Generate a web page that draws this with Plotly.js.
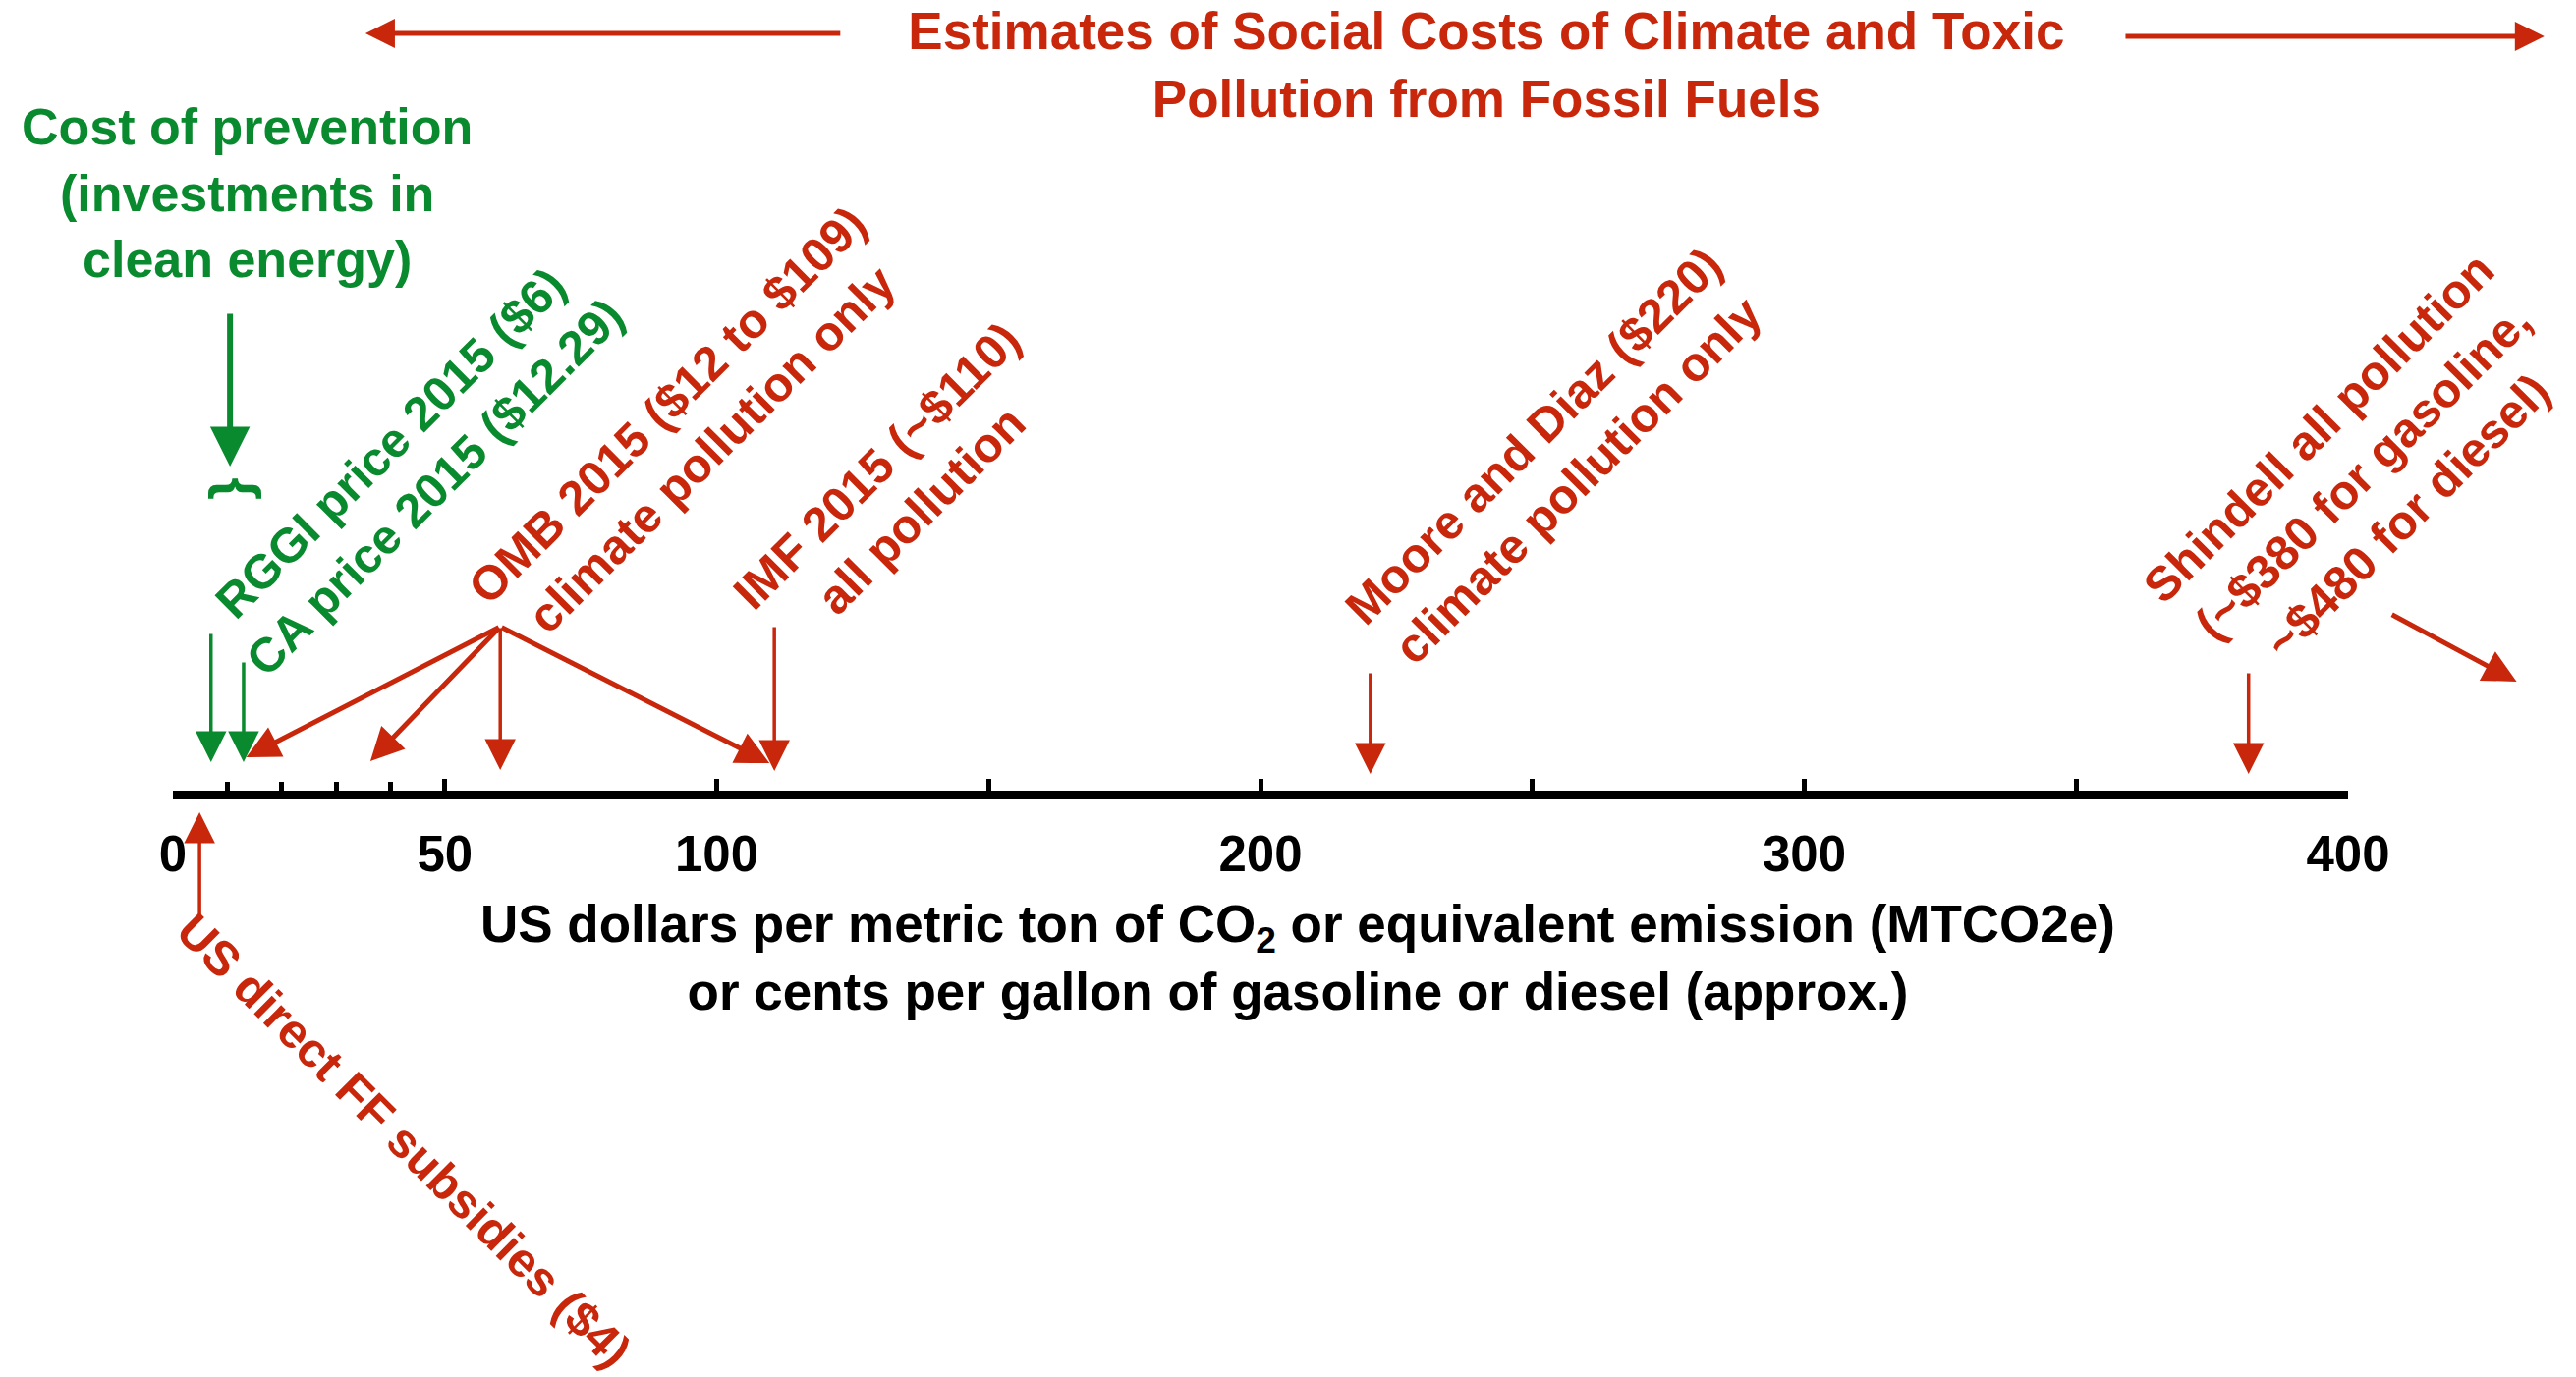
<!DOCTYPE html>
<html><head><meta charset="utf-8">
<script src="https://cdn.plot.ly/plotly-3.0.1.min.js"></script>
<style>html,body{margin:0;padding:0;background:#fff;overflow:hidden}</style>
</head><body><div id="chart" style="width:2622px;height:1402px"></div>
<script>
const RED = '#C8270B';
const GREEN = '#0A8A2E';
const FONT = '"Liberation Sans", Arial, Helvetica, sans-serif';

// ---- axis ----
const labelledTickValues = [0, 50, 100, 200, 300, 400];
const labelledTickText = ['0', '50', '100', '200', '300', '400'];
const unlabelledTickValues = [150, 250, 350];
const minorTickValues = [10, 20, 30, 40];
const xRange = [0, 400];

// ---- estimates (US$ per tCO2e, read where each arrow points) ----
const priceLabels = ['RGGI price 2015 ($6)', 'CA price 2015 ($12.29)'];
const priceValues = [7, 13];
const ombLabels = ['OMB 2015 ($12 to $109)', 'climate pollution only'];
const ombTargets = [13.5, 36.3, 60.2, 109.7];
const ombHub = 60.2;
const estimateLabels = [
  'IMF 2015 (~$110)<br>all pollution',
  'Moore and Diaz ($220)<br>climate pollution only',
  'Shindell all pollution<br>(~$380 for gasoline,<br>~$480 for diesel)'
];
const estimateValues = [110.6, 220.2, 381.7];
const dieselValue = 431;
const subsidyLabel = 'US direct FF subsidies ($4)';
const subsidyValue = 4.9;

const preventionLabel = 'Cost of prevention<br>(investments in<br>clean energy)';
const titleText = 'Estimates of Social Costs of Climate and Toxic<br>Pollution from Fossil Fuels';
const axisTitleText = 'US dollars per metric ton of CO<sub>2</sub> or equivalent emission (MTCO2e)<br>or cents per gallon of gasoline or diesel (approx.)';

// ---- geometry of the plot area ----
const M = {l: 176, r: 232, t: 0, b: 597};
const PLOT_W = 2622 - M.l - M.r;
const PLOT_H = 1402 - M.t - M.b;
const PX_PER_UNIT = PLOT_W / (xRange[1] - xRange[0]);

// x: value on the axis; y: pixels above the axis line
function xPos(v) {
  if (v >= xRange[0] && v <= xRange[1]) return {xref: 'x', x: v};
  return {xref: 'paper', x: (v - xRange[0]) / (xRange[1] - xRange[0])};
}
function arrow(xTip, yTip, xTail, yTail, color, width, size) {
  return Object.assign(xPos(xTip), {
    yref: 'paper', y: yTip / PLOT_H,
    axref: 'pixel', ayref: 'pixel',
    ax: (xTail - xTip) * PX_PER_UNIT, ay: -(yTail - yTip),
    text: '', showarrow: true, arrowhead: 2, arrowsize: size, arrowwidth: width,
    arrowcolor: color, standoff: 0});
}
function label(text, x, y, color, size, angle) {
  return Object.assign(xPos(x), {
    yref: 'paper', y: y / PLOT_H, text: text, showarrow: false,
    xanchor: 'center', yanchor: 'middle', align: 'center', textangle: angle || 0,
    font: {family: FONT, size: size, color: color, weight: 700}});
}

const ann = [];
// title arrows
ann.push(arrow(35.4, 771, 123, 771, RED, 5, 1.2));
ann.push(arrow(436.1, 768, 358.8, 768, RED, 5, 1.2));
// cost of prevention
ann.push(label(preventionLabel, 13.6, 608, GREEN, 52));
ann.push(arrow(10.5, 330, 10.5, 487, GREEN, 6, 1.35));
ann.push(label('}', 10.3, 307, GREEN, 58, -90));
// green prices
ann.push(label(priceLabels.join('<br>'), 44.0, 331, GREEN, 49, -45));
const priceTails = [161, 132];
priceValues.forEach((v, i) => ann.push(arrow(v, 29, v, priceTails[i], GREEN, 3.5, 1.8)));
// OMB
ann.push(label(ombLabels.join('<br>'), 95, 370, RED, 49, -45));
const ombTipY = [34, 30, 21, 28];
ombTargets.forEach((v, i) => {
  const vertical = Math.abs(v - ombHub) < 0.01;
  ann.push(arrow(v, ombTipY[i], ombHub, 167, RED, vertical ? 3.5 : 5, vertical ? 1.8 : 1.35));
});
// other estimates
const estCenters = [[133.5, 308], [254.2, 338], [402.6, 325]];
const estTails = [168, 121, 121];
const estTips = [20, 17, 17];
estimateLabels.forEach((t, i) => {
  ann.push(label(t, estCenters[i][0], estCenters[i][1], RED, 49, -45));
  ann.push(arrow(estimateValues[i], estTips[i], estimateValues[i], estTails[i], RED, 3.5, 1.8));
});
ann.push(arrow(dieselValue, 111, 407.8, 180, RED, 5, 1.35));
// subsidies
ann.push(arrow(subsidyValue, -22, subsidyValue, -128, RED, 3.5, 1.8));
ann.push(label(subsidyLabel, 42.5, -356, RED, 49, 45));
// axis title
ann.push(label(axisTitleText, 206.9, -170, 'black', 53));

const baseAxis = {
  range: xRange, showgrid: false, zeroline: false,
  showline: true, linecolor: 'black', linewidth: 8,
  ticks: 'inside', ticklen: 12, tickwidth: 5, tickcolor: 'black',
  tickmode: 'array', fixedrange: true
};

const layout = {
  width: 2622, height: 1402,
  margin: {l: M.l, r: M.r, t: M.t, b: M.b, pad: 0},
  paper_bgcolor: 'white', plot_bgcolor: 'white',
  showlegend: false,
  title: {text: titleText, x: 0.577, xanchor: 'center', xref: 'container', y: 0.964, yanchor: 'top', yref: 'container',
    font: {family: FONT, size: 53, color: RED, weight: 700}},
  xaxis: Object.assign({}, baseAxis, {
    tickvals: labelledTickValues, ticktext: labelledTickText,
    minor: {tickmode: 'array', tickvals: minorTickValues, ticks: 'inside', ticklen: 9, tickwidth: 5, tickcolor: 'black', showgrid: false},
    tickfont: {family: FONT, size: 51, color: 'black', weight: 700},
    ticklabelstandoff: 13
  }),
  xaxis2: Object.assign({}, baseAxis, {
    overlaying: 'x', anchor: 'y', side: 'bottom',
    tickvals: unlabelledTickValues, showticklabels: false
  }),
  yaxis: {range: [0, PLOT_H], visible: false, fixedrange: true},
  annotations: ann
};

const traces = [
  {x: estimateValues, y: estimateValues.map(() => 0), xaxis: 'x', yaxis: 'y', mode: 'markers', marker: {opacity: 0}, hoverinfo: 'skip', showlegend: false},
  {x: unlabelledTickValues, y: unlabelledTickValues.map(() => 0), xaxis: 'x2', yaxis: 'y', mode: 'markers', marker: {opacity: 0}, hoverinfo: 'skip', showlegend: false}
];

Plotly.newPlot('chart', traces, layout, {staticPlot: true, displayModeBar: false});
</script>
</body></html>
